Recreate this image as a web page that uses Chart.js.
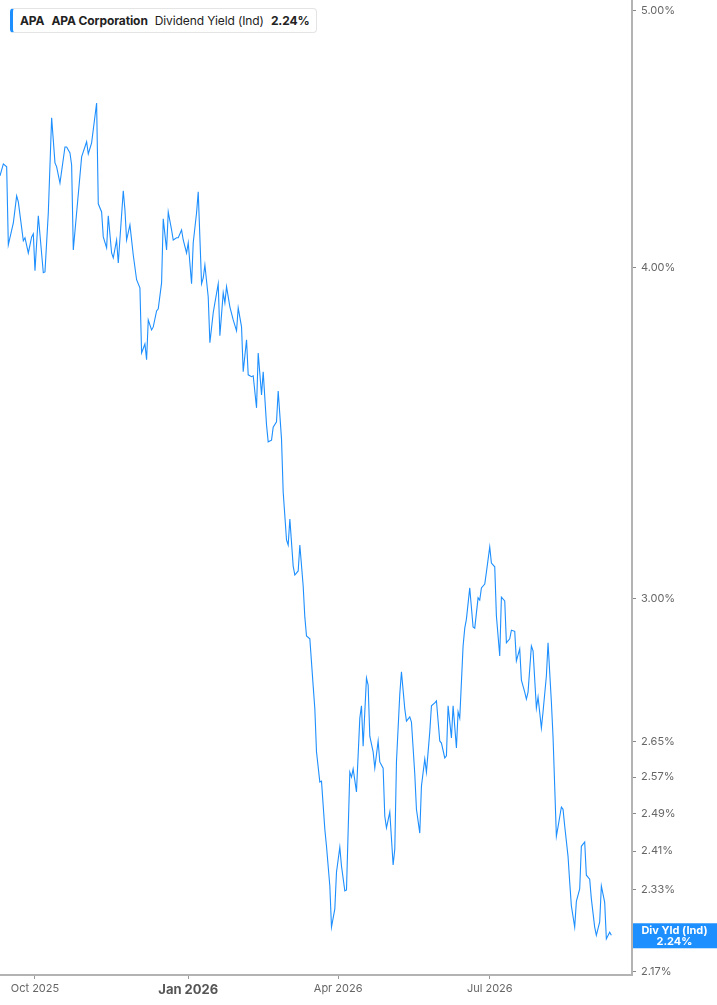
<!DOCTYPE html>
<html>
<head>
<meta charset="utf-8">
<script src="https://cdn.jsdelivr.net/npm/chart.js@4.4.1/dist/chart.umd.min.js"></script>
<style>
  body { margin: 0; background: #fff; font-family: Inter, "Noto Sans", sans-serif; }
  #wrap { position: relative; width: 717px; height: 1005px; }
  #legend {
    position: absolute; left: 10px; top: 8px; height: 25px;
    border: 1px solid #e4e4e4; border-left: 3px solid #1e8fff; border-radius: 4px;
    box-sizing: border-box; display: flex; align-items: center; gap: 7px;
    padding: 0 6px 0 7px; font-size: 12px; color: #222; background: #fff;
    white-space: nowrap; letter-spacing: -0.1px;
  }
  #legend b { font-weight: 700; }
</style>
</head>
<body>
<div id="wrap">
  <canvas id="chart" width="717" height="1005"></canvas>
  <div id="legend"><b>APA</b><b>APA Corporation</b><span>Dividend Yield (Ind)</span><b>2.24%</b></div>
</div>
<script>
// days counted from 1 Oct 2025
const days = [
  -21,-19,-17,-16,-13,-11,-10,-7,-6,-4,
  -2,-1,0,2,5,6,8,10,12,13,
  15,18,19,21,22,23,25,28,31,32,
  34,37,38,40,41,43,44,46,47,49,
  50,53,54,55,57,59,61,63,64,66,
  67,68,70,71,73,74,76,77,79,80,
  82,83,85,86,88,89,91,92,94,95,
  97,98,100,101,102,104,105,107,108,110,
  111,113,114,115,117,119,121,122,124,125,
  127,128,130,131,133,134,136,137,139,140,
  142,143,145,146,148,149,151,152,153,155,
  156,158,159,161,162,163,165,167,168,169,
  171,172,174,175,177,178,180,181,183,184,
  186,187,189,190,191,193,195,196,197,199,
  200,201,203,204,206,207,209,210,211,213,
  215,216,217,219,220,222,223,225,226,228,
  229,231,232,234,235,237,238,240,241,243,
  244,246,247,248,250,251,253,254,255,257,
  258,259,261,263,264,266,267,268,270,271,
  273,274,276,277,279,280,282,283,285,286,
  288,289,291,292,294,295,296,298,299,301,
  302,304,305,307,308,310,311,313,314,316,
  317,318,320,321,322,324,325,327,328,330,
  331,333,334,336,337,339,340,342,343,345,
  346
];
const yields = [
  4.333,4.378,4.367,4.081,4.159,4.258,4.236,4.095,4.106,4.052,
  4.109,4.120,3.990,4.185,3.983,3.986,4.196,4.557,4.382,4.367,
  4.306,4.443,4.443,4.420,4.374,4.063,4.196,4.405,4.463,4.416,
  4.459,4.616,4.229,4.199,4.109,4.070,4.185,4.052,4.035,4.098,
  4.017,4.277,4.207,4.098,4.152,4.045,3.959,3.931,3.715,3.744,
  3.693,3.823,3.790,3.800,3.853,3.860,3.948,4.174,4.063,4.199,
  4.134,4.098,4.106,4.106,4.134,4.098,4.052,4.088,3.945,4.088,
  4.196,4.273,3.945,3.965,4.010,3.900,3.748,3.847,3.880,3.945,
  3.771,3.914,3.880,3.935,3.867,3.823,3.787,3.863,3.800,3.655,
  3.758,3.645,3.639,3.642,3.542,3.715,3.582,3.655,3.490,3.439,
  3.444,3.483,3.499,3.594,3.447,3.292,3.158,3.144,3.216,3.087,
  3.063,3.074,3.144,3.034,2.953,2.905,2.898,2.782,2.727,2.627,
  2.559,2.561,2.456,2.420,2.338,2.256,2.292,2.366,2.418,2.379,
  2.328,2.330,2.581,2.570,2.588,2.537,2.705,2.734,2.640,2.801,
  2.784,2.663,2.627,2.590,2.652,2.604,2.590,2.484,2.459,2.493,
  2.381,2.414,2.604,2.762,2.816,2.727,2.698,2.708,2.696,2.577,
  2.499,2.448,2.550,2.611,2.581,2.673,2.734,2.741,2.746,2.652,
  2.647,2.613,2.618,2.734,2.659,2.734,2.636,2.720,2.705,2.880,
  2.925,2.948,3.029,2.928,2.925,3.003,2.997,3.029,3.039,3.071,
  3.139,3.095,3.085,2.956,2.855,3.005,2.995,2.888,2.898,2.920,
  2.917,2.843,2.873,2.796,2.767,2.750,2.767,2.880,2.868,2.729,
  2.755,2.682,2.720,2.806,2.888,2.743,2.661,2.441,2.461,2.504,
  2.499,2.463,2.399,2.346,2.298,2.256,2.307,2.332,2.420,2.429,
  2.360,2.352,2.312,2.256,2.240,2.266,2.338,2.305,2.233,2.246,
  2.240
];
const tickDays = [0, 92, 182, 273];
const tickLabels = ['Oct 2025', 'Jan 2026', 'Apr 2026', 'Jul 2026'];
const yTicks = [5.00, 4.00, 3.00, 2.65, 2.57, 2.49, 2.41, 2.33, 2.17];
const lastYield = 2.24;

Chart.defaults.font.family = 'Inter, "Noto Sans", sans-serif';

const badge = {
  id: 'badge',
  afterDraw(chart) {
    const ys = chart.scales.y;
    const c = chart.ctx;
    const yy = ys.getPixelForValue(lastYield);
    c.save();
    c.fillStyle = '#1e8fff';
    c.fillRect(ys.left + 1, yy - 12, chart.width - ys.left, 25);
    c.fillStyle = '#fff';
    c.font = 'bold 11px Inter, "Noto Sans", sans-serif';
    c.textAlign = 'center';
    c.textBaseline = 'middle';
    const cx = (ys.left + chart.width) / 2;
    c.fillText('Div Yld (Ind)', cx, yy - 5);
    c.fillText(lastYield.toFixed(2) + '%', cx, yy + 6);
    c.restore();
  }
};

const canvas = document.querySelector('#chart');
const ctx = canvas.getContext('2d');
const config = {
  type: 'line',
  data: {
    datasets: [{
      label: 'Dividend Yield (Ind)',
      data: days.map((d, i) => ({ x: d, y: yields[i] })),
      borderColor: '#1e8fff',
      borderWidth: 1.1,
      pointRadius: 0,
      tension: 0,
      fill: false
    }]
  },
  options: {
    responsive: false,
    animation: false,
    layout: { padding: 0 },
    plugins: { legend: { display: false }, tooltip: { enabled: false } },
    scales: {
      x: {
        type: 'linear',
        min: -21,
        max: 358.4,
        afterBuildTicks: s => { s.ticks = tickDays.map(v => ({ value: v })); },
        afterFit: s => { s.height = 30; s.paddingLeft = 0; s.paddingRight = 0; },
        ticks: {
          autoSkip: false,
          maxRotation: 0,
          padding: 3,
          color: ctx => ctx.tick && ctx.tick.value === 92 ? '#555' : '#666',
          font: ctx => ctx.tick && ctx.tick.value === 92 ? { size: 13, weight: 'bold' } : { size: 11 },
          callback: v => tickLabels[tickDays.indexOf(v)]
        },
        grid: { drawOnChartArea: false, tickLength: 4, color: '#999' },
        border: { color: '#b3b3b3', width: 2 }
      },
      y: {
        type: 'logarithmic',
        position: 'right',
        min: 2.164,
        max: 5.048,
        afterBuildTicks: s => { s.ticks = yTicks.map(v => ({ value: v })); },
        afterFit: s => { s.width = 85; s.paddingTop = 0; s.paddingBottom = 0; },
        ticks: {
          autoSkip: false,
          padding: 5,
          color: '#666',
          font: { size: 11 },
          callback: v => Number(v).toFixed(2) + '%'
        },
        grid: { drawOnChartArea: false, tickLength: 4, color: '#888' },
        border: { color: '#b3b3b3', width: 2 }
      }
    }
  },
  plugins: [badge]
};
const chart = new Chart(ctx, config);
</script>
</body>
</html>
